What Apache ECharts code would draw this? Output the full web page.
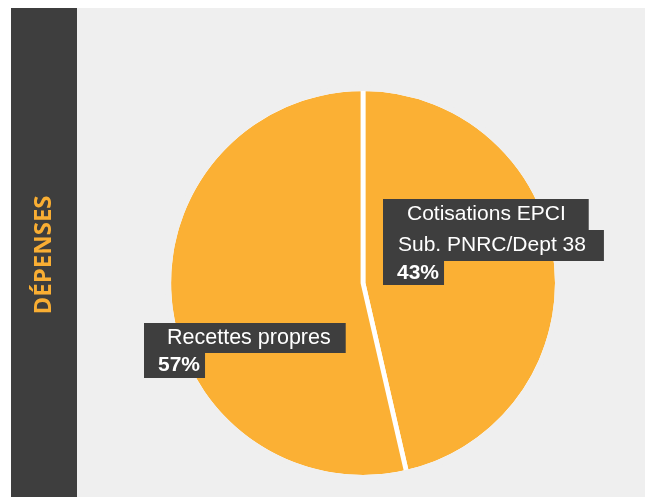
<!DOCTYPE html>
<html>
<head>
<meta charset="utf-8">
<script src="https://cdn.jsdelivr.net/npm/echarts@6/dist/echarts.min.js"></script>
<style>html,body{margin:0;padding:0;background:#fff}#c{width:652px;height:497px}</style>
</head>
<body>
<div id="c"></div>
<script>
// Data
const sideTitle = 'DÉPENSES';
const categoryLines = [['Cotisations EPCI', 'Sub. PNRC/Dept 38'], ['Recettes propres']];
const sliceShares = [46.4, 53.6];          // angular share
const percentLabels = ['43%', '57%'];      // percentages printed on the chart

const ORANGE = '#fbb034';
const DARK = '#3e3e3e';
const PANEL = '#efefef';

const chart = echarts.init(document.getElementById('c'), null, {renderer: 'canvas'});

const richBase = {color: '#fff', fontSize: 21, fontFamily: 'Liberation Sans', backgroundColor: DARK};
const rich = {
  a1: Object.assign({}, richBase, {height: 31, lineHeight: 31, padding: [0, 23, 0, 24]}),
  a2: Object.assign({}, richBase, {height: 31, lineHeight: 31, padding: [0, 18, 0, 15]}),
  ap: Object.assign({}, richBase, {fontWeight: 'bold', height: 24, lineHeight: 24, padding: [0, 5, 0, 14]}),
  b1: Object.assign({}, richBase, {fontSize: 21.5, height: 30, lineHeight: 30, padding: [0, 15, 0, 23]}),
  bp: Object.assign({}, richBase, {fontWeight: 'bold', height: 25, lineHeight: 25, padding: [0, 5, 0, 14]})
};
const labelAnchors = [[383, 199], [144, 323]];
const pieCenter = [363, 283];
const borderW = 4.8;
const pieRadius = 192 + borderW / 2;

const pieData = sliceShares.map(function (v, i) { return {value: v, name: categoryLines[i].join(' ')}; });

const option = {
  animation: false,
  backgroundColor: '#fff',
  graphic: {
    elements: [
      {type: 'rect', z: -10, shape: {x: 77, y: 8, width: 568, height: 489}, style: {fill: PANEL}},
      {type: 'rect', z: -10, shape: {x: 11, y: 8, width: 66, height: 489}, style: {fill: DARK}},
      {type: 'text', x: 44, y: 255, rotation: Math.PI / 2,
       style: {text: sideTitle, fill: '#f9ae33', font: 'bold 24px "Open Sans"', align: 'center', verticalAlign: 'middle'}},
      // mask hiding the white outer stroke of the slice borders (sits between pie and labels)
      {type: 'circle', z: 3, silent: true,
       shape: {cx: pieCenter[0], cy: pieCenter[1], r: pieRadius - borderW / 2 + 3},
       style: {fill: null, stroke: PANEL, lineWidth: 6}}
    ]
  },
  series: [{
    type: 'pie',
    z: 2,
    center: pieCenter,
    radius: [0, pieRadius],
    startAngle: 90,
    clockwise: true,
    silent: true,
    emphasis: {disabled: true},
    itemStyle: {color: ORANGE, borderColor: '#fff', borderWidth: borderW},
    label: {show: false},
    labelLine: {show: false},
    data: pieData
  }, {
    type: 'pie',
    z: 4,
    center: pieCenter,
    radius: [0, pieRadius],
    startAngle: 90,
    clockwise: true,
    silent: true,
    emphasis: {disabled: true},
    itemStyle: {color: 'rgba(0,0,0,0)', borderWidth: 0},
    labelLine: {show: false},
    label: {
      show: true,
      position: 'inside',
      align: 'left',
      verticalAlign: 'top',
      formatter: function (p) {
        const i = p.dataIndex;
        if (i === 0) {
          return '{a1|' + categoryLines[0][0] + '}\n{a2|' + categoryLines[0][1] + '}\n{ap|' + percentLabels[0] + '}';
        }
        return '{b1|' + categoryLines[1][0] + '}\n{bp|' + percentLabels[1] + '}';
      },
      rich: rich
    },
    labelLayout: function (params) {
      const a = labelAnchors[params.dataIndex];
      return {x: a[0], y: a[1], align: 'left', verticalAlign: 'top'};
    },
    data: pieData
  }]
};
chart.setOption(option);
</script>
</body>
</html>
